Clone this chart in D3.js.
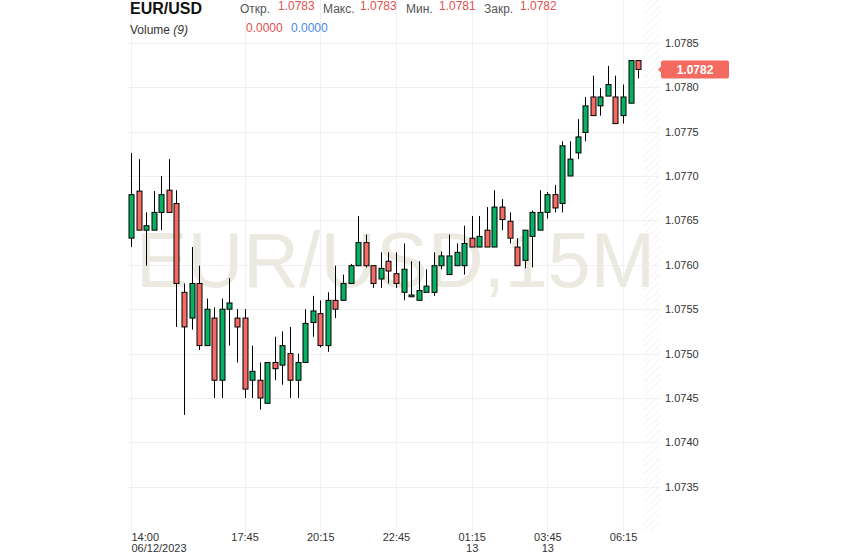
<!DOCTYPE html>
<html><head><meta charset="utf-8">
<script src="https://cdn.jsdelivr.net/npm/d3@7"></script>
<style>
html,body{margin:0;padding:0;background:#fff;}
svg{display:block;font-family:Arial,"Liberation Sans",sans-serif;}
</style></head>
<body><svg id="c" width="843" height="558"></svg>
<script>
// ---- data (EUR/USD 15M, starting 06/12/2023 14:00) ----
const openP  = [1.07630,1.07683,1.07639,1.07639,1.07659,1.07684,1.07669,1.07569,1.07540,1.07579,
                1.07509,1.07540,1.07470,1.07550,1.07540,1.07540,1.07470,1.07470,1.07444,1.07490,
                1.07487,1.07500,1.07470,1.07490,1.07535,1.07545,1.07509,1.07560,1.07560,1.07579,
                1.07599,1.07625,1.07599,1.07584,1.07604,1.07590,1.07569,1.07564,1.07560,1.07569,
                1.07569,1.07599,1.07589,1.07599,1.07599,1.07630,1.07620,1.07639,1.07620,1.07665,
                1.07649,1.07620,1.07605,1.07632,1.07639,1.07659,1.07679,1.07669,1.07700,1.07726,
                1.07749,1.07789,1.07779,1.07790,1.07789,1.07768,1.07782,1.07830];
const highP  = [1.07726,1.07719,1.07659,1.07683,1.07700,1.07719,1.07684,1.07579,1.07620,1.07599,
                1.07562,1.07552,1.07562,1.07585,1.07550,1.07550,1.07509,1.07490,1.07490,1.07519,
                1.07525,1.07530,1.07500,1.07550,1.07565,1.07560,1.07569,1.07599,1.07589,1.07601,
                1.07655,1.07634,1.07599,1.07614,1.07614,1.07614,1.07624,1.07604,1.07604,1.07595,
                1.07614,1.07615,1.07634,1.07624,1.07644,1.07655,1.07655,1.07665,1.07684,1.07674,
                1.07659,1.07630,1.07639,1.07661,1.07684,1.07682,1.07690,1.07739,1.07739,1.07764,
                1.07789,1.07813,1.07799,1.07824,1.07813,1.07803,1.07830,1.07830];
const lowP   = [1.07620,1.07639,1.07599,1.07639,1.07639,1.07659,1.07530,1.07431,1.07527,1.07504,
                1.07509,1.07450,1.07450,1.07509,1.07490,1.07450,1.07450,1.07437,1.07444,1.07470,
                1.07465,1.07450,1.07450,1.07490,1.07519,1.07507,1.07502,1.07540,1.07560,1.07579,
                1.07599,1.07597,1.07574,1.07574,1.07579,1.07574,1.07560,1.07564,1.07560,1.07569,
                1.07565,1.07595,1.07589,1.07599,1.07589,1.07620,1.07620,1.07620,1.07620,1.07639,
                1.07624,1.07599,1.07596,1.07597,1.07639,1.07652,1.07659,1.07659,1.07700,1.07719,
                1.07739,1.07768,1.07768,1.07790,1.07759,1.07759,1.07782,1.07810];
const closeP = [1.07679,1.07639,1.07644,1.07659,1.07679,1.07659,1.07579,1.07530,1.07579,1.07509,
                1.07550,1.07470,1.07550,1.07557,1.07530,1.07460,1.07480,1.07450,1.07490,1.07483,
                1.07509,1.07470,1.07490,1.07534,1.07548,1.07509,1.07560,1.07550,1.07579,1.07599,
                1.07625,1.07599,1.07579,1.07596,1.07593,1.07579,1.07595,1.07566,1.07571,1.07576,
                1.07599,1.07610,1.07610,1.07614,1.07624,1.07620,1.07632,1.07620,1.07665,1.07651,
                1.07630,1.07599,1.07639,1.07659,1.07659,1.07679,1.07664,1.07734,1.07719,1.07744,
                1.07779,1.07768,1.07789,1.07803,1.07759,1.07789,1.07830,1.07820];
const priceTicks = [1.0735,1.0740,1.0745,1.0750,1.0755,1.0760,1.0765,1.0770,1.0775,1.0780,1.0785];
const timeTickIndex = [0,15,25,35,45,55,65];
const timeTickLabels = ["14:00","17:45","20:15","22:45","01:15","03:45","06:15"];
const timeTickSub = ["06/12/2023","","","","13","13",""];
const header = {symbol:"EUR/USD", open:"1.0783", high:"1.0783", low:"1.0781", close:"1.0782"};
const lastPrice = 1.0782;

const candles = openP.map((o,i)=>({i,o,h:highP[i],l:lowP[i],c:closeP[i]}));

const svg = d3.select("#c");
const plotL = 127, plotR = 660, plotTop = 0, plotBot = 531;
const x = d3.scaleLinear().domain([0, 67]).range([131, 638.2]);
const y = d3.scaleLinear().domain([1.0730, 1.0785]).range([531.2, 42.8]);

// hatch pattern for right margin
const defs = svg.append("defs");
const pat = defs.append("pattern").attr("id","hatch").attr("patternUnits","userSpaceOnUse")
  .attr("width",5).attr("height",5).attr("patternTransform","rotate(45)");
pat.append("line").attr("x1",0).attr("y1",0).attr("x2",0).attr("y2",5)
  .attr("stroke","#ececec").attr("stroke-width",1.2);
svg.append("rect").attr("x",644).attr("y",plotTop).attr("width",plotR-644).attr("height",plotBot-plotTop)
  .attr("fill","url(#hatch)");

// gridlines
svg.append("g").selectAll("line").data(priceTicks).join("line")
  .attr("x1",plotL).attr("x2",plotR).attr("y1",d=>Math.round(y(d))+0.5).attr("y2",d=>Math.round(y(d))+0.5)
  .attr("stroke","#f0f0f0");
svg.append("g").selectAll("line").data(timeTickIndex).join("line")
  .attr("x1",d=>Math.round(x(d))+0.5).attr("x2",d=>Math.round(x(d))+0.5).attr("y1",plotTop).attr("y2",plotBot)
  .attr("stroke","#f0f0f0");

// watermark
svg.append("text").attr("x",136).attr("y",287).attr("font-size",77)
  .attr("textLength",519).attr("lengthAdjust","spacingAndGlyphs")
  .attr("fill","#ece9e0").text("EUR/USD,15M");

// candles
const g = svg.append("g");
g.selectAll("line.w").data(candles).join("line").attr("class","w")
  .attr("x1",d=>Math.round(x(d.i))+0.5).attr("x2",d=>Math.round(x(d.i))+0.5)
  .attr("y1",d=>y(d.h)).attr("y2",d=>y(d.l)).attr("stroke","#000").attr("stroke-width",1);
g.selectAll("rect.b").data(candles).join("rect").attr("class","b")
  .attr("x",d=>Math.round(x(d.i))-2)
  .attr("y",d=>y(Math.max(d.o,d.c)))
  .attr("width",5)
  .attr("height",d=>Math.max(1.5,Math.abs(y(d.o)-y(d.c))))
  .attr("fill",d=>d.c>=d.o?"#07b062":"#f36b62")
  .attr("stroke","#000").attr("stroke-width",1);

// right axis
const ya = d3.axisRight(y).tickValues(priceTicks).tickFormat(d3.format(".4f")).tickSize(0).tickPadding(0);
const yg = svg.append("g").attr("transform","translate(665,0)").call(ya);
yg.select(".domain").remove();
yg.selectAll("text").attr("font-size",11).attr("fill","#333").attr("font-family","Arial,'Liberation Sans',sans-serif");

// last price label
const ly = y(lastPrice);
svg.append("path").attr("d",`M658,${ly} L662,${ly-4} L662,${ly+4} Z`).attr("fill","#f46a60");
svg.append("rect").attr("x",661).attr("y",ly-9).attr("width",68).attr("height",18).attr("rx",2)
  .attr("fill","#f46a60");
svg.append("text").attr("x",695).attr("y",ly+4.5).attr("text-anchor","middle")
  .attr("font-size",12).attr("font-weight","bold").attr("fill","#fff").text(d3.format(".4f")(lastPrice));

// bottom axis
const xa = d3.axisBottom(x).tickValues(timeTickIndex).tickFormat((d,i)=>timeTickLabels[i]).tickSize(0).tickPadding(0);
const xg = svg.append("g").attr("transform","translate(0,532)").call(xa);
xg.select(".domain").remove();
xg.selectAll("text").attr("font-size",11).attr("fill","#333").attr("dy",null).attr("y",9)
  .attr("font-family","Arial,'Liberation Sans',sans-serif")
  .attr("text-anchor",(d,i)=>i===0?"start":"middle")
  .attr("x",(d,i)=>i===0?131-x(d):0);
xg.selectAll(".tick").append("text").attr("font-size",11).attr("fill","#333")
  .attr("font-family","Arial,'Liberation Sans',sans-serif")
  .attr("y",20).attr("text-anchor",(d,i)=>i===0?"start":"middle")
  .attr("x",(d,i)=>i===0?131-x(d):0).text((d,i)=>timeTickSub[i]);

// header
const hd = svg.append("g").attr("font-family","Arial,'Liberation Sans',sans-serif");
hd.append("text").attr("x",130).attr("y",14).attr("font-size",16).attr("font-weight","bold").attr("fill","#111").text(header.symbol);
const items = [["Откр.",240,header.open,278],["Макс.",323,header.high,360],["Мин.",406,header.low,439],["Закр.",484,header.close,520]];
items.forEach(([lab,lx,val,vx])=>{
  hd.append("text").attr("x",lx).attr("y",12.5).attr("font-size",12).attr("fill","#555").text(lab);
  hd.append("text").attr("x",vx).attr("y",10).attr("font-size",12).attr("fill","#e0514d").text(val);
});
const vol = hd.append("text").attr("x",130).attr("y",33.5).attr("font-size",12).attr("fill","#333");
vol.append("tspan").text("Volume ");
vol.append("tspan").attr("font-style","italic").text("(9)");
hd.append("text").attr("x",246).attr("y",32).attr("font-size",12).attr("fill","#e0514d").text("0.0000");
hd.append("text").attr("x",291).attr("y",32).attr("font-size",12).attr("fill","#4a86f0").text("0.0000");
</script></body></html>
